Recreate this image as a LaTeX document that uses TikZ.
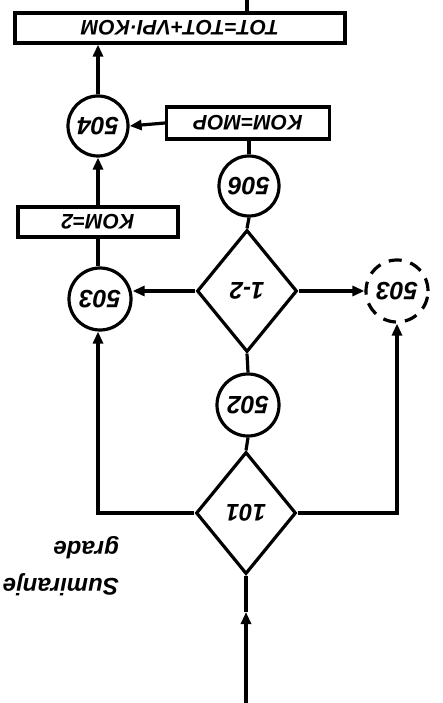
\documentclass[tikz,border=0pt]{standalone}
\usepackage{fontspec}
\setmainfont{Liberation Sans}
\usetikzlibrary{shapes.geometric,arrows.meta}
\tikzset{
  every node/.style={font=\fontsize{21}{23}\selectfont\bfseries\itshape},
  ln/.style={line width=3.2pt},
  arr/.style={line width=3.2pt,-{Triangle[length=12pt,width=10pt]}},
  crc/.style={circle,draw,line width=3.2pt,minimum size=60pt,inner sep=0pt,font=\fontsize{25}{27}\selectfont\bfseries\itshape},
  dcrc/.style={crc,minimum size=62pt,dash pattern=on 13pt off 9pt},
  dia/.style={diamond,draw,line width=3.2pt,minimum width=100pt,minimum height=122pt,inner sep=0pt,font=\fontsize{24}{26}\selectfont\bfseries\itshape},
  bx/.style={rectangle,draw,line width=3.2pt,inner sep=0pt},
  lbl/.style={align=left,inner sep=0pt,font=\fontsize{24}{37}\selectfont\bfseries\itshape}
}
\newcommand{\rt}[1]{\rotatebox{180}{#1}}
\begin{document}
\begin{tikzpicture}[x=1pt,y=-1pt]
\useasboundingbox (0,0) rectangle (442,703);
% nodes
\node[bx,minimum width=330pt,minimum height=30pt] (top) at (180,28) {\rt{TOT=TOT+VPI·KOM}};
\node[crc] (c504) at (98,126) {\rt{504}};
\node[bx,minimum width=163pt,minimum height=32pt] (mop) at (248,123) {\rt{KOM=MOP}};
\node[crc] (c506) at (249,186) {\rt{506}};
\node[bx,minimum width=160pt,minimum height=30pt] (k2) at (98,222) {\rt{KOM=2}};
\node[crc,minimum size=62pt] (c503l) at (100,299) {\rt{503}};
\node[dia] (di2) at (247,291) {\rt{1-2}};
\node[dcrc] (c503r) at (397,291) {\rt{503}};
\node[crc,minimum size=62pt] (c502) at (248,405) {\rt{502}};
\node[dia] (d101) at (246,513) {\rt{101}};
\node[lbl,anchor=north east] (txt) at (119,536) {\rt{\parbox{125pt}{\fontsize{24}{37}\selectfont Sumiranje\\grade}}};
% coordinates
\coordinate (topend) at (247,0);
\coordinate (start) at (246,703);
\coordinate (mid) at (246,612);
\coordinate (cl) at (98,513);
\coordinate (cr) at (397,513);
% connectors
\draw[ln] (top.north -| topend) -- (topend);
\draw[arr] (c504.north) -- (c504.north |- top.south);
\draw[arr] (mop.west) -- (c504.east);
\draw[ln] (c506.north) -- (c506.north |- mop.south);
\draw[ln] (di2.north) -- (c506.south);
\draw[arr] (k2.north) -- (c504.south);
\draw[ln] (c503l.north -| k2.south) -- (k2.south);
\draw[arr] (di2.west) -- (c503l.east |- di2.west);
\draw[arr] (di2.east) -- (c503r.west);
\draw[ln] (c502.north) -- (di2.south);
\draw[ln] (d101.north) -- (c502.south);
\draw[arr] (d101.west) -- (cl) -- (cl |- c503l.south);
\draw[arr] (d101.east) -- (cr) -- (c503r.south);
\draw[arr] (start) -- (mid);
\draw[ln] (mid) -- (d101.south);
\end{tikzpicture}
\end{document}
